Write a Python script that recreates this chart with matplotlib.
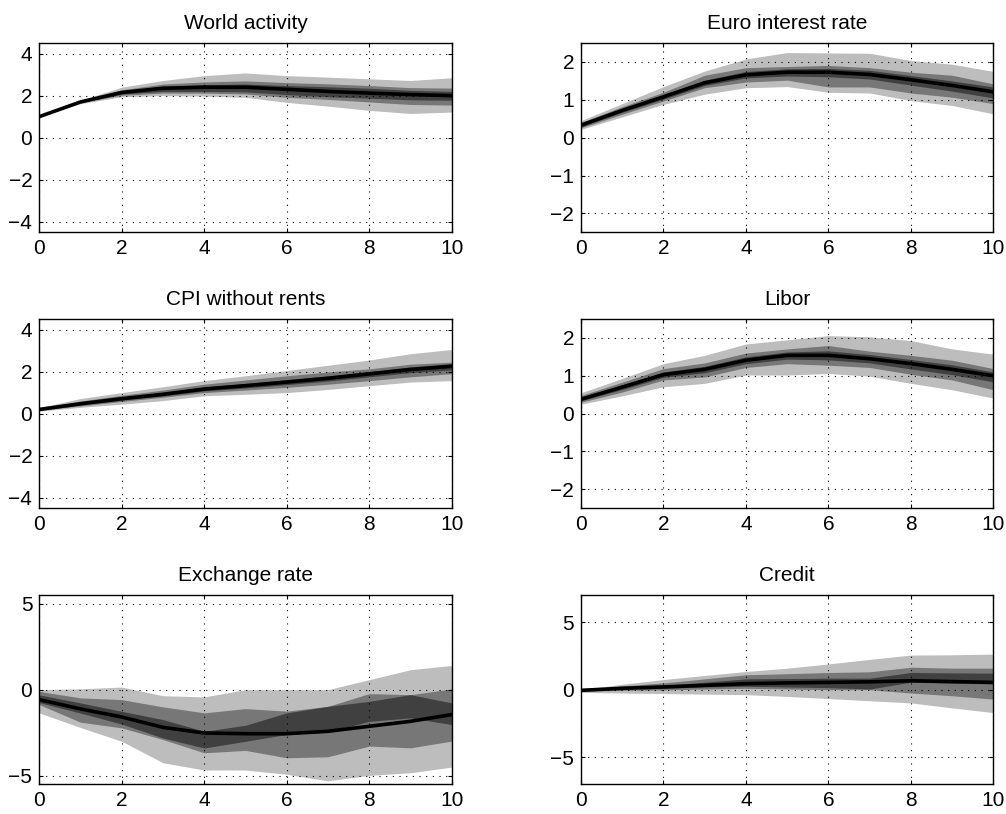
import matplotlib
matplotlib.use('Agg')
import matplotlib.pyplot as plt
import numpy as np

plt.rcParams['font.family'] = ['Liberation Sans', 'DejaVu Sans']

horizon = list(range(11))

titles = ['World activity', 'Euro interest rate', 'CPI without rents',
          'Libor', 'Exchange rate', 'Credit']

# median responses
world_med = [1.0, 1.7, 2.15, 2.35, 2.4, 2.4, 2.3, 2.2, 2.12, 2.05, 2.0]
euro_med = [0.33, 0.72, 1.08, 1.45, 1.66, 1.73, 1.73, 1.67, 1.53, 1.38, 1.21]
cpi_med = [0.2, 0.47, 0.71, 0.92, 1.17, 1.33, 1.5, 1.68, 1.89, 2.1, 2.25]
libor_med = [0.38, 0.7, 1.03, 1.17, 1.41, 1.54, 1.54, 1.45, 1.32, 1.17, 1.0]
fx_med = [-0.58, -1.12, -1.59, -2.19, -2.52, -2.56, -2.56, -2.42, -2.13, -1.84, -1.45]
credit_med = [-0.05, 0.1, 0.2, 0.32, 0.44, 0.5, 0.54, 0.58, 0.66, 0.6, 0.54]

# outer (light) bands
world_light_lo = [1.0, 1.62, 1.95, 2.0, 1.98, 1.92, 1.68, 1.5, 1.3, 1.15, 1.22]
world_light_hi = [1.0, 1.78, 2.4, 2.72, 2.95, 3.08, 2.95, 2.88, 2.8, 2.72, 2.85]
euro_light_lo = [0.22, 0.55, 0.88, 1.15, 1.32, 1.35, 1.2, 1.18, 0.98, 0.85, 0.63]
euro_light_hi = [0.45, 0.9, 1.35, 1.76, 2.08, 2.25, 2.24, 2.23, 2.04, 1.94, 1.75]
cpi_light_lo = [0.12, 0.3, 0.45, 0.62, 0.85, 0.92, 1.0, 1.15, 1.33, 1.5, 1.57]
cpi_light_hi = [0.28, 0.72, 1.0, 1.28, 1.57, 1.8, 2.05, 2.3, 2.55, 2.85, 3.05]
libor_light_lo = [0.25, 0.47, 0.71, 0.8, 1.02, 1.02, 1.06, 0.99, 0.8, 0.63, 0.41]
libor_light_hi = [0.55, 0.93, 1.32, 1.54, 1.84, 1.95, 2.06, 2.03, 1.93, 1.71, 1.57]
fx_light_lo = [-1.35, -2.2, -3.0, -4.25, -4.67, -4.67, -4.92, -5.3, -4.98, -4.83, -4.5]
fx_light_hi = [0.0, 0.05, 0.15, -0.35, -0.42, 0.0, 0.0, 0.0, 0.58, 1.16, 1.41]
credit_light_lo = [-0.2, -0.25, -0.29, -0.33, -0.37, -0.5, -0.66, -0.82, -0.98, -1.35, -1.7]
credit_light_hi = [0.0, 0.4, 0.75, 1.05, 1.34, 1.59, 1.9, 2.24, 2.56, 2.58, 2.63]

# middle bands
world_mid_lo = [1.0, 1.66, 2.02, 2.12, 2.12, 2.08, 1.92, 1.82, 1.7, 1.58, 1.55]
world_mid_hi = [1.0, 1.74, 2.28, 2.55, 2.65, 2.7, 2.62, 2.56, 2.48, 2.38, 2.36]
euro_mid_lo = [0.26, 0.62, 0.97, 1.32, 1.47, 1.52, 1.34, 1.34, 1.18, 1.07, 0.9]
euro_mid_hi = [0.4, 0.82, 1.2, 1.65, 1.85, 1.88, 1.91, 1.85, 1.73, 1.65, 1.42]
cpi_mid_lo = [0.15, 0.37, 0.58, 0.78, 1.0, 1.12, 1.25, 1.4, 1.57, 1.75, 1.9]
cpi_mid_hi = [0.25, 0.6, 0.87, 1.12, 1.4, 1.6, 1.8, 1.98, 2.13, 2.35, 2.45]
libor_mid_lo = [0.3, 0.57, 0.89, 0.97, 1.22, 1.32, 1.28, 1.22, 1.04, 0.89, 0.63]
libor_mid_hi = [0.48, 0.83, 1.19, 1.34, 1.6, 1.71, 1.8, 1.65, 1.54, 1.41, 1.19]
fx_mid_lo = [-0.87, -1.89, -2.22, -2.9, -3.67, -3.53, -3.96, -3.9, -3.28, -3.38, -2.99]
fx_mid_hi = [-0.1, -0.48, -0.58, -1.0, -1.35, -1.1, -1.25, -0.97, -0.23, -0.29, 0.04]
credit_mid_lo = [-0.1, -0.05, -0.02, 0.05, 0.1, 0.05, 0.0, 0.0, -0.25, -0.45, -0.7]
credit_mid_hi = [-0.02, 0.28, 0.5, 0.8, 1.1, 1.18, 1.27, 1.32, 1.66, 1.59, 1.59]

# inner (dark) bands
world_dark_lo = [1.0, 1.68, 2.08, 2.2, 2.2, 2.18, 2.05, 1.95, 1.88, 1.8, 1.78]
world_dark_hi = [1.0, 1.72, 2.22, 2.45, 2.52, 2.55, 2.48, 2.42, 2.35, 2.25, 2.2]
euro_dark_lo = [0.29, 0.67, 1.02, 1.38, 1.58, 1.63, 1.61, 1.55, 1.39, 1.23, 1.05]
euro_dark_hi = [0.37, 0.77, 1.14, 1.52, 1.75, 1.82, 1.83, 1.78, 1.64, 1.5, 1.34]
cpi_dark_lo = [0.17, 0.41, 0.64, 0.84, 1.08, 1.22, 1.38, 1.55, 1.75, 1.95, 2.08]
cpi_dark_hi = [0.23, 0.53, 0.78, 1.0, 1.27, 1.43, 1.62, 1.8, 2.0, 2.22, 2.38]
libor_dark_lo = [0.34, 0.64, 0.96, 1.08, 1.32, 1.44, 1.42, 1.34, 1.18, 1.03, 0.84]
libor_dark_hi = [0.43, 0.76, 1.1, 1.25, 1.5, 1.63, 1.66, 1.56, 1.43, 1.29, 1.1]
fx_dark_lo = [-0.75, -1.36, -2.0, -2.81, -3.39, -3.0, -2.6, -2.47, -1.84, -1.64, -2.03]
fx_dark_hi = [-0.3, -0.77, -1.26, -1.74, -2.42, -2.07, -1.35, -0.97, -0.68, -0.29, -0.77]
credit_dark_lo = [-0.08, 0.05, 0.1, 0.2, 0.25, 0.2, 0.15, 0.05, 0.55, 0.48, 0.42]
credit_dark_hi = [-0.03, 0.18, 0.32, 0.55, 0.8, 0.82, 0.85, 0.85, 1.27, 1.24, 1.22]

ylims = [4.5, 2.5, 4.5, 2.5, 5.5, 7]
yticks = [[-4, -2, 0, 2, 4], [-2, -1, 0, 1, 2], [-4, -2, 0, 2, 4],
          [-2, -1, 0, 1, 2], [-5, 0, 5], [-5, 0, 5]]

panels = [
    (world_med, world_light_lo, world_light_hi, world_mid_lo, world_mid_hi, world_dark_lo, world_dark_hi),
    (euro_med, euro_light_lo, euro_light_hi, euro_mid_lo, euro_mid_hi, euro_dark_lo, euro_dark_hi),
    (cpi_med, cpi_light_lo, cpi_light_hi, cpi_mid_lo, cpi_mid_hi, cpi_dark_lo, cpi_dark_hi),
    (libor_med, libor_light_lo, libor_light_hi, libor_mid_lo, libor_mid_hi, libor_dark_lo, libor_dark_hi),
    (fx_med, fx_light_lo, fx_light_hi, fx_mid_lo, fx_mid_hi, fx_dark_lo, fx_dark_hi),
    (credit_med, credit_light_lo, credit_light_hi, credit_mid_lo, credit_mid_hi, credit_dark_lo, credit_dark_hi),
]

fig = plt.figure(figsize=(10.06, 8.14), dpi=100)

lefts = [0.039, 0.5775]
bottoms = [0.7146, 0.3756, 0.0365]
w, h = 0.41, 0.2325

for i, (med, llo, lhi, mlo, mhi, dlo, dhi) in enumerate(panels):
    ax = fig.add_axes([lefts[i % 2], bottoms[i // 2], w, h])
    ax.fill_between(horizon, llo, lhi, color='#bdbdbd', linewidth=0, zorder=1)
    ax.fill_between(horizon, mlo, mhi, color='#777777', linewidth=0, zorder=1.1)
    ax.fill_between(horizon, dlo, dhi, color='#404040', linewidth=0, zorder=1.2)
    ax.plot(horizon, med, color='k', linewidth=2.6, zorder=3)

    ax.set_xlim(0, 10)
    ax.set_ylim(-ylims[i], ylims[i])
    ax.set_xticks([0, 2, 4, 6, 8, 10])
    ax.set_yticks(yticks[i])
    ax.set_axisbelow(False)
    ax.grid(True, linestyle=(0, (1, 5)), color='k', linewidth=0.8)
    ax.tick_params(direction='in', top=True, right=True, length=3,
                   labelsize=15, width=0.8)
    ax.tick_params(axis='x', pad=5)
    ax.tick_params(axis='y', pad=5)
    for s in ax.spines.values():
        s.set_linewidth(1.0)
        s.set_zorder(4)
    ax.set_title(titles[i], fontsize=15, pad=10)

fig.savefig('out.png', dpi=100)
